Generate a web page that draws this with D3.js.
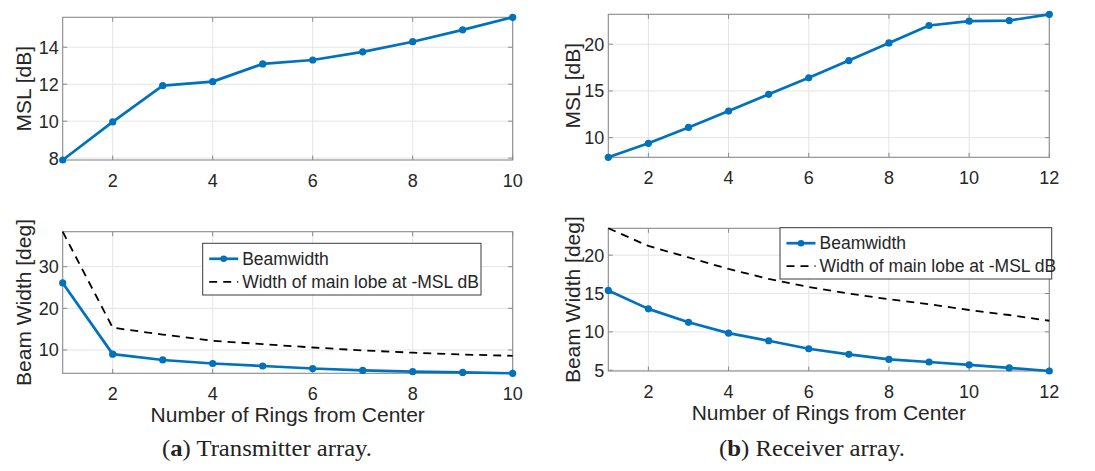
<!DOCTYPE html>
<html lang="en">
<head>
  <meta charset="UTF-8">
  <title>MSL and Beam Width vs Number of Rings</title>
  <style>
    body { margin: 0; background: #ffffff; }
    svg { display: block; }
    .tick-label { font-family: 'Liberation Sans', Arial, sans-serif; font-size: 18px; fill: #262626; }
    .axis-label { font-family: 'Liberation Sans', Arial, sans-serif; font-size: 21px; fill: #262626; }
    .legend-text { font-family: 'Liberation Sans', Arial, sans-serif; font-size: 17.5px; fill: #262626; }
    .caption { font-family: 'Liberation Serif', 'Times New Roman', serif; font-size: 23.5px; fill: #222; }
  </style>
  <script src="https://d3js.org/d3.v7.min.js"></script>
</head>
<body>
  <div id="chart"></div>

  <script>
    const W = 1095, H = 471;
    const BLUE = '#0072BD';

    // (a) transmitter array
    const ringsA   = [1, 2, 3, 4, 5, 6, 7, 8, 9, 10];
    const mslA     = [7.9, 9.96, 11.92, 12.14, 13.1, 13.31, 13.75, 14.3, 14.94, 15.62];
    const beamA    = [26.1, 9.0, 7.6, 6.75, 6.15, 5.55, 5.1, 4.8, 4.6, 4.4];
    const lobeA    = [38.4, 15.35, 13.7, 12.2, 11.4, 10.6, 9.9, 9.35, 8.9, 8.6];
    const xTicksA  = [2, 4, 6, 8, 10];
    const yTicksA1 = [8, 10, 12, 14];
    const yTicksA2 = [10, 20, 30];

    // (b) receiver array
    const ringsB   = [1, 2, 3, 4, 5, 6, 7, 8, 9, 10, 11, 12];
    const mslB     = [7.9, 9.4, 11.1, 12.85, 14.64, 16.4, 18.25, 20.14, 22.0, 22.46, 22.53, 23.2];
    const beamB    = [15.4, 13.0, 11.25, 9.83, 8.84, 7.8, 7.07, 6.41, 6.07, 5.7, 5.3, 4.9];
    const lobeB    = [23.5, 21.2, 19.7, 18.2, 16.9, 15.85, 15.0, 14.25, 13.6, 12.85, 12.2, 11.45];
    const xTicksB  = [2, 4, 6, 8, 10, 12];
    const yTicksB1 = [10, 15, 20];
    const yTicksB2 = [5, 10, 15, 20];

    const legendNames = ['Beamwidth', 'Width of main lobe at -MSL dB'];
    const xLabel = 'Number of Rings from Center';

    const svg = d3.select('#chart').append('svg')
      .attr('width', W).attr('height', H);

    function panel(o) {
      const g = svg.append('g');
      const x = d3.scaleLinear().domain(d3.extent(o.xs)).range([o.left, o.right]);
      const allY = o.series.flatMap(s => s.values);
      const y = d3.scaleLinear().domain(d3.extent(allY)).range([o.bottom, o.top]);

      // grid
      g.selectAll('.gx').data(o.xTicks).join('line')
        .attr('x1', d => x(d)).attr('x2', d => x(d))
        .attr('y1', o.top).attr('y2', o.bottom)
        .attr('stroke', '#e4e4e4').attr('stroke-width', 1);
      g.selectAll('.gy').data(o.yTicks).join('line')
        .attr('x1', o.left).attr('x2', o.right)
        .attr('y1', d => y(d)).attr('y2', d => y(d))
        .attr('stroke', '#e4e4e4').attr('stroke-width', 1);

      // box + inward ticks
      g.append('rect')
        .attr('x', o.left).attr('y', o.top)
        .attr('width', o.right - o.left).attr('height', o.bottom - o.top)
        .attr('fill', 'none').attr('stroke', '#8a8a8a').attr('stroke-width', 1.1);
      const tl = 4.5;
      o.xTicks.forEach(t => {
        g.append('line').attr('x1', x(t)).attr('x2', x(t)).attr('y1', o.bottom).attr('y2', o.bottom - tl).attr('stroke', '#8a8a8a');
        g.append('line').attr('x1', x(t)).attr('x2', x(t)).attr('y1', o.top).attr('y2', o.top + tl).attr('stroke', '#8a8a8a');
      });
      o.yTicks.forEach(t => {
        g.append('line').attr('x1', o.left).attr('x2', o.left + tl).attr('y1', y(t)).attr('y2', y(t)).attr('stroke', '#8a8a8a');
        g.append('line').attr('x1', o.right).attr('x2', o.right - tl).attr('y1', y(t)).attr('y2', y(t)).attr('stroke', '#8a8a8a');
      });

      // tick labels
      g.selectAll('.xt').data(o.xTicks).join('text')
        .attr('class', 'tick-label')
        .attr('x', d => x(d)).attr('y', o.bottom + 26.5)
        .attr('text-anchor', 'middle').text(d => d);
      g.selectAll('.yt').data(o.yTicks).join('text')
        .attr('class', 'tick-label')
        .attr('x', o.left - 4).attr('y', d => y(d) + 6.5)
        .attr('text-anchor', 'end').text(d => d);

      // y label
      g.append('text').attr('class', 'axis-label')
        .attr('transform', `translate(${o.ylabX},${(o.top + o.bottom) / 2}) rotate(-90)`)
        .attr('text-anchor', 'middle').text(o.yLabel);

      if (o.showXLabel) {
        g.append('text').attr('class', 'axis-label')
          .attr('x', (o.left + o.right) / 2).attr('y', o.bottom + 49)
          .attr('text-anchor', 'middle').text(xLabel);
      }

      // series
      o.series.forEach(s => {
        const line = d3.line().x((d, i) => x(o.xs[i])).y(d => y(d));
        g.append('path').datum(s.values)
          .attr('d', line).attr('fill', 'none')
          .attr('stroke', s.dashed ? '#000' : BLUE)
          .attr('stroke-width', s.dashed ? 1.8 : 2.7)
          .attr('stroke-dasharray', s.dashed ? '8,6' : null)
          .attr('stroke-linejoin', 'round');
        if (!s.dashed) {
          g.selectAll(null).data(s.values).join('circle')
            .attr('cx', (d, i) => x(o.xs[i])).attr('cy', d => y(d))
            .attr('r', 3.6).attr('fill', BLUE);
        }
      });

      // legend
      if (o.legend) {
        const L = o.legend;
        const lg = g.append('g');
        lg.append('rect').attr('x', L.x).attr('y', L.y).attr('width', L.w).attr('height', L.h)
          .attr('fill', '#fff').attr('stroke', '#3a3a3a').attr('stroke-width', 1);
        const rows = [L.y + 15.5, L.y + 38.5];
        lg.append('line').attr('x1', L.x + 6.5).attr('x2', L.x + 35.5)
          .attr('y1', rows[0]).attr('y2', rows[0])
          .attr('stroke', BLUE).attr('stroke-width', 2.7);
        lg.append('circle').attr('cx', L.x + 21).attr('cy', rows[0]).attr('r', 3.3).attr('fill', BLUE);
        lg.append('line').attr('x1', L.x + 6.5).attr('x2', L.x + 35.5)
          .attr('y1', rows[1]).attr('y2', rows[1])
          .attr('stroke', '#000').attr('stroke-width', 1.8).attr('stroke-dasharray', '8,6');
        legendNames.forEach((n, i) => {
          lg.append('text').attr('class', 'legend-text')
            .attr('x', L.x + 39.5).attr('y', rows[i] + 6.2).text(n);
        });
      }
    }

    panel({ xs: ringsA, series: [{ values: mslA }], left: 62.7, right: 512.7, top: 17.3, bottom: 160,
            xTicks: xTicksA, yTicks: yTicksA1, yLabel: 'MSL [dB]', ylabX: 31 });
    panel({ xs: ringsA, series: [{ values: beamA }, { values: lobeA, dashed: true }],
            left: 62.7, right: 512.7, top: 231.7, bottom: 373.3,
            xTicks: xTicksA, yTicks: yTicksA2, yLabel: 'Beam Width [deg]', ylabX: 31, showXLabel: true,
            legend: { x: 202.7, y: 243.3, w: 278.3, h: 51.7 } });
    panel({ xs: ringsB, series: [{ values: mslB }], left: 608.3, right: 1049.3, top: 14.3, bottom: 157.3,
            xTicks: xTicksB, yTicks: yTicksB1, yLabel: 'MSL [dB]', ylabX: 580 });
    panel({ xs: ringsB, series: [{ values: beamB }, { values: lobeB, dashed: true }],
            left: 608.3, right: 1049.3, top: 228.3, bottom: 371,
            xTicks: xTicksB, yTicks: yTicksB2, yLabel: 'Beam Width [deg]', ylabX: 580, showXLabel: true,
            legend: { x: 780, y: 227.7, w: 271.7, h: 51.3 } });

    // sub-captions
    const captions = [
      { cx: 267, tag: 'a', rest: ' Transmitter array.', len: 210 },
      { cx: 812, tag: 'b', rest: ' Receiver array.', len: 186 }
    ];
    captions.forEach(c => {
      const t = svg.append('text').attr('class', 'caption')
        .attr('x', c.cx - c.len / 2).attr('y', 456)
        .attr('textLength', c.len).attr('lengthAdjust', 'spacingAndGlyphs');
      t.append('tspan').text('(');
      t.append('tspan').attr('font-weight', 'bold').text(c.tag);
      t.append('tspan').text(')' + c.rest);
    });
  </script>
</body>
</html>
